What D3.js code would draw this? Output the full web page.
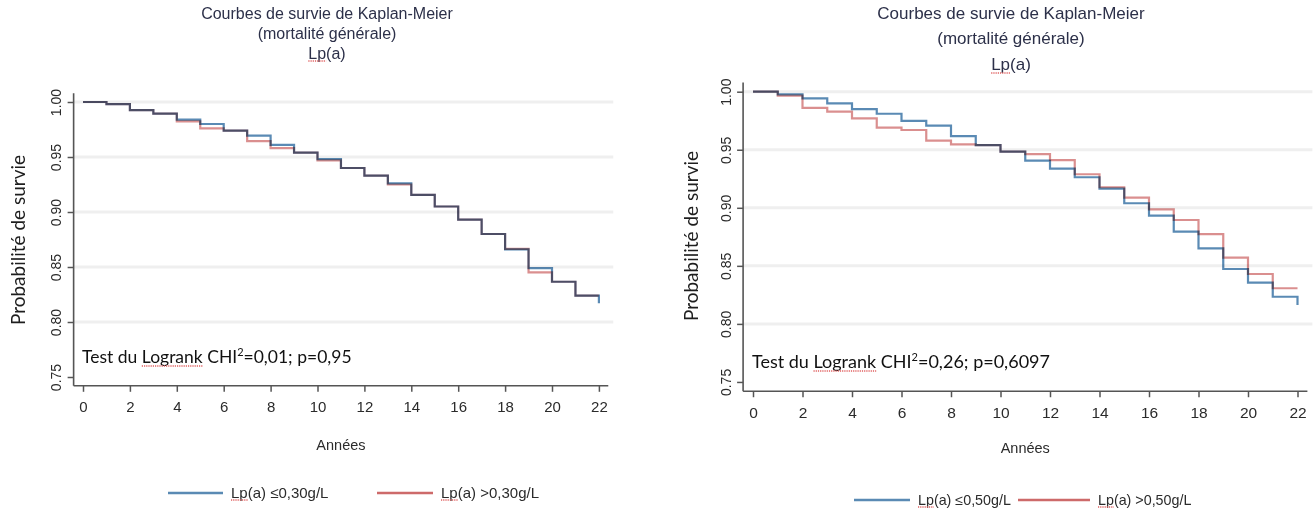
<!DOCTYPE html>
<html>
<head>
<meta charset="utf-8">
<script src="https://cdn.jsdelivr.net/npm/d3@7"></script>
<style>
    body { margin: 0; background: #fff; }
    svg { display: block; }
</style>
</head>
<body>
<svg id="chart"></svg>
<script>
const years = d3.range(0, 23);
const x_ticks = [0, 2, 4, 6, 8, 10, 12, 14, 16, 18, 20, 22];
const y_ticks = [0.75, 0.80, 0.85, 0.90, 0.95, 1.00];
const grid_ticks = [0.80, 0.85, 0.90, 0.95, 1.00];

// survival at the start of each year interval, 0..22
const left_low = [1.000, 0.998, 0.9927, 0.9894, 0.984, 0.980, 0.974, 0.9694, 0.961, 0.954, 0.948,
    0.940, 0.933, 0.926, 0.9155, 0.905, 0.893, 0.880, 0.866, 0.849, 0.8366, 0.824, 0.817];
const left_high = [1.000, 0.998, 0.9927, 0.9894, 0.9824, 0.976, 0.974, 0.9645, 0.958, 0.954, 0.947,
    0.940, 0.933, 0.925, 0.9155, 0.905, 0.893, 0.880, 0.8664, 0.8452, 0.8366, 0.824, 0.824];
const right_low = [1.000, 0.9977, 0.9943, 0.990, 0.985, 0.981, 0.9748, 0.9707, 0.9618, 0.954, 0.9483,
    0.9406, 0.9337, 0.9263, 0.9165, 0.9039, 0.8932, 0.8794, 0.865, 0.8473, 0.8355, 0.8234, 0.8163];
const right_high = [1.000, 0.9966, 0.986, 0.9828, 0.977, 0.969, 0.967, 0.9578, 0.9547, 0.954, 0.9483,
    0.9463, 0.941, 0.9289, 0.9177, 0.9087, 0.8987, 0.8895, 0.8774, 0.857, 0.843, 0.8307, 0.8307];

const title_lines = ["Courbes de survie de Kaplan-Meier", "(mortalité générale)", "Lp(a)"];
const left_legend = ["Lp(a) ≤0,30g/L", "Lp(a) >0,30g/L"];
const right_legend = ["Lp(a) ≤0,50g/L", "Lp(a) >0,50g/L"];
const left_test = ["Test du Logrank CHI", "2", "=0,01; p=0,95"];
const right_test = ["Test du Logrank CHI", "2", "=0,26; p=0,6097"];

const blue = "#5a8ab4";
const red = "#cd6a6a";
const axis_color = "#555";
const text_color = "#2b2b2b";
const title_color = "#2c3049";
const sans = "'Liberation Sans', Arial, sans-serif";
const calib = "Lato, 'Open Sans', sans-serif";

const panels = [
    {
        low: left_low, high: left_high, test: left_test,
        x0: 83, px_year: 23.45, y1: 102, px_unit: 1100,
        title_x: 327, title_y: [19, 39, 59], title_size: 16,
        ylab_x: 20, ylab_y: 240, xlab_y: 450, tick_size: 15,
        legend_y: 493, legend: left_legend, legend_x: [168, 377], legend_len: [55, 56], legend_size: 15,
        test_y: 363, test_size: 17.5
    },
    {
        low: right_low, high: right_high, test: right_test,
        x0: 753, px_year: 24.75, y1: 91.7, px_unit: 1161,
        title_x: 1011, title_y: [19, 44, 70], title_size: 17,
        ylab_x: 693, ylab_y: 236, xlab_y: 453, tick_size: 15.5,
        legend_y: 500, legend: right_legend, legend_x: [854, 1018], legend_len: [56, 72], legend_size: 14.3,
        test_y: 368, test_size: 18
    }
];

function get_svg() {
    return d3.select("#chart")
        .attr("width", 1314)
        .attr("height", 509);
}

function squiggle(svg, text_node, start, count) {
    const a = text_node.getExtentOfChar(start);
    const b = text_node.getExtentOfChar(start + count - 1);
    const y = a.y + a.height - 1;
    svg.append("line")
        .attr("x1", a.x)
        .attr("x2", b.x + b.width)
        .attr("y1", y)
        .attr("y2", y)
        .attr("stroke", "#e06060")
        .attr("stroke-width", 1.3)
        .attr("stroke-dasharray", "1.2,1");
}

function draw_panel(svg, p) {
    const x = d3.scaleLinear()
        .domain([-0.4, 22.4])
        .range([p.x0 - 0.4 * p.px_year, p.x0 + 22.4 * p.px_year]);
    const y = d3.scaleLinear()
        .domain([0.742, 1.008])
        .range([p.y1 + 0.258 * p.px_unit, p.y1 - 0.008 * p.px_unit]);

    const g = svg.append("g");

    // grid
    g.append("g")
        .selectAll("line")
        .data(grid_ticks)
        .enter().append("line")
        .attr("x1", x(-0.4))
        .attr("x2", x(22.4) + 5)
        .attr("y1", d => y(d))
        .attr("y2", d => y(d))
        .attr("stroke", "#efefef")
        .attr("stroke-width", 3);

    // axes
    const x_axis = g.append("g")
        .attr("transform", `translate(0,${y(0.742)})`)
        .call(d3.axisBottom(x).tickValues(x_ticks).tickSize(6).tickPadding(10).tickFormat(d3.format("d")));
    const y_axis = g.append("g")
        .attr("transform", `translate(${x(-0.4)},0)`)
        .call(d3.axisLeft(y).tickValues(y_ticks).tickSize(6).tickPadding(4).tickFormat(d3.format(".2f")));

    [x_axis, y_axis].forEach(a => {
        a.select(".domain").attr("stroke", axis_color).attr("stroke-width", 1.6);
        a.selectAll(".tick line").attr("stroke", axis_color).attr("stroke-width", 1.5);
        a.selectAll("text")
            .attr("fill", text_color)
            .style("font-family", sans)
            .style("font-size", p.tick_size + "px");
    });
    x_axis.select(".domain").attr("d", `M${x(-0.4)},0H${x(22.4)}`);
    y_axis.select(".domain").attr("d", `M0,${y(0.742)}V${y(1.008)}`);
    y_axis.selectAll(".tick text")
        .attr("transform", "rotate(-90)")
        .attr("x", 0)
        .attr("y", -17)
        .attr("text-anchor", "middle")
        .style("font-size", "14px");

    // curves
    const line = d3.line()
        .x((d, i) => x(years[i]))
        .y(d => y(d))
        .curve(d3.curveStepAfter);

    [[p.low, blue, 1], [p.high, red, 0.75]].forEach(([values, color, op]) => {
        g.append("path")
            .datum(values)
            .attr("d", line)
            .attr("fill", "none")
            .attr("stroke", color)
            .attr("stroke-width", 2.2)
            .attr("stroke-opacity", op)
            .style("mix-blend-mode", "multiply");
    });

    // titles
    title_lines.forEach((t, i) => {
        const node = g.append("text")
            .attr("x", p.title_x)
            .attr("y", p.title_y[i])
            .attr("text-anchor", "middle")
            .attr("fill", title_color)
            .style("font-family", sans)
            .style("font-size", p.title_size + "px")
            .text(t);
        if (i === 2) squiggle(g, node.node(), 0, 2);
    });

    g.append("text")
        .attr("transform", `translate(${p.ylab_x},${p.ylab_y}) rotate(-90)`)
        .attr("text-anchor", "middle")
        .attr("dominant-baseline", "middle")
        .attr("fill", "#1e1e1e")
        .style("font-family", calib)
        .style("font-size", "19px")
        .text("Probabilité de survie");

    g.append("text")
        .attr("x", (x(0) + x(22)) / 2)
        .attr("y", p.xlab_y)
        .attr("text-anchor", "middle")
        .attr("fill", text_color)
        .style("font-family", sans)
        .style("font-size", "14.5px")
        .text("Années");

    // logrank test
    const test = g.append("text")
        .attr("x", x(0) - 1)
        .attr("y", p.test_y)
        .attr("fill", "#111")
        .style("font-family", calib)
        .style("font-size", p.test_size + "px");
    test.append("tspan").text(p.test[0]);
    test.append("tspan").attr("dy", -7).style("font-size", "11px").text(p.test[1]);
    test.append("tspan").attr("dy", 7).text(p.test[2]);
    squiggle(g, test.node(), 8, 7);

    // legend
    [blue, red].forEach((color, i) => {
        const lx = p.legend_x[i];
        g.append("line")
            .attr("x1", lx)
            .attr("x2", lx + p.legend_len[i])
            .attr("y1", p.legend_y)
            .attr("y2", p.legend_y)
            .attr("stroke", color)
            .attr("stroke-width", 2.4);
        const node = g.append("text")
            .attr("x", lx + p.legend_len[i] + 8)
            .attr("y", p.legend_y + 5)
            .attr("fill", text_color)
            .style("font-family", sans)
            .style("font-size", p.legend_size + "px")
            .text(p.legend[i]);
        squiggle(g, node.node(), 0, 2);
    });
}

const svg = get_svg();
panels.forEach(p => draw_panel(svg, p));
</script>
</body>
</html>
